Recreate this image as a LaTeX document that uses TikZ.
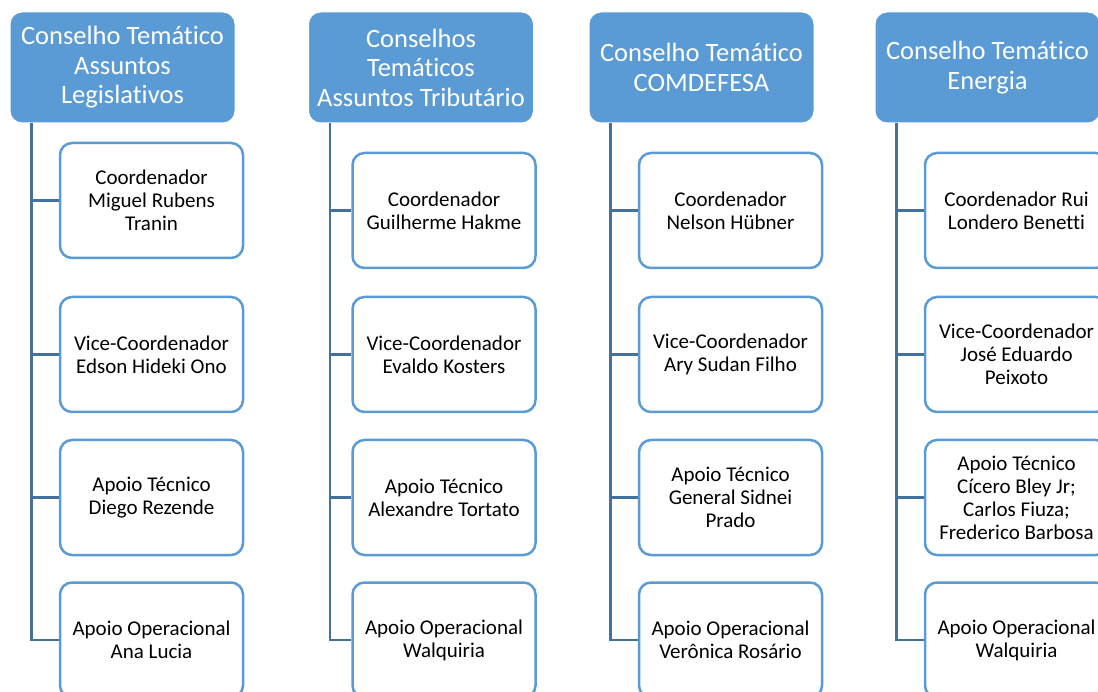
\documentclass[tikz,border=0pt]{standalone}
\usepackage{fontspec}
\setmainfont{Carlito}[Ligatures=NoCommon]
\usepackage{xcolor}

\begin{document}
\begin{tikzpicture}[x=1pt,y=-1pt,
  headbox/.style={rectangle,rounded corners=12pt,fill=officeblue,draw=white,line width=1pt,
    minimum width=225pt,minimum height=111pt,text=white,align=center,
    font=\fontsize{26.5}{29.5}\selectfont},
  memberbox/.style={rectangle,rounded corners=12pt,fill=white,draw=officeblue,line width=2.5pt,
    minimum width=183pt,minimum height=115pt,text=black,align=center,
    font=\fontsize{21}{23}\selectfont},
  link/.style={draw=linkblue,line width=2.5pt}]
\definecolor{officeblue}{HTML}{5B9BD5}
\definecolor{linkblue}{HTML}{41719C}
\useasboundingbox (0,0) rectangle (1098,692);
\clip (0,0) rectangle (1098,692);
% heads
\node [headbox] (hdr1) at (122.5,67.5) {Conselho Temático\\Assuntos\\Legislativos};
\node [headbox] (hdr2) at (421,67.5) {Conselhos\\Temáticos\\Assuntos Tributário};
\node [headbox] (hdr3) at (701.5,67.5) {Conselho Temático\\COMDEFESA};
\node [headbox] (hdr4) at (987.5,67.5) {Conselho Temático\\Energia};
% members
\node [memberbox] (mbr1-1) at (151.5,200.5) {Coordenador\\Miguel Rubens\\Tranin};
\node [memberbox] (mbr1-2) at (151.5,354.5) {Vice-Coordenador\\Edson Hideki Ono};
\node [memberbox] (mbr1-3) at (151.5,497.5) {Apoio Técnico\\Diego Rezende};
\node [memberbox] (mbr1-4) at (151.5,640) {Apoio Operacional\\Ana Lucia};
\node [memberbox] (mbr2-1) at (444,210.5) {Coordenador\\Guilherme Hakme};
\node [memberbox] (mbr2-2) at (444,354.5) {Vice-Coordenador\\Evaldo Kosters};
\node [memberbox] (mbr2-3) at (444,497.5) {Apoio Técnico\\Alexandre Tortato};
\node [memberbox] (mbr2-4) at (444,640) {Apoio Operacional\\Walquiria};
\node [memberbox] (mbr3-1) at (730.5,210.5) {Coordenador\\Nelson Hübner};
\node [memberbox] (mbr3-2) at (730.5,354.5) {Vice-Coordenador\\Ary Sudan Filho};
\node [memberbox] (mbr3-3) at (730.5,497.5) {Apoio Técnico\\General Sidnei\\Prado};
\node [memberbox] (mbr3-4) at (730.5,640) {Apoio Operacional\\Verônica Rosário};
\node [memberbox] (mbr4-1) at (1016.5,210.5) {Coordenador Rui\\Londero Benetti};
\node [memberbox] (mbr4-2) at (1016.5,354.5) {Vice-Coordenador\\José Eduardo\\Peixoto};
\node [memberbox] (mbr4-3) at (1016.5,497.5) {Apoio Técnico\\Cícero Bley Jr;\\Carlos Fiuza;\\Frederico Barbosa};
\node [memberbox] (mbr4-4) at (1016.5,640) {Apoio Operacional\\Walquiria};
% links
\foreach \col in {1,2,3,4}
  \foreach \row in {1,2,3,4}
  {  \draw [link] ([xshift=22pt]hdr\col.south west) |- (mbr\col-\row.west);}
\end{tikzpicture}
\end{document}
